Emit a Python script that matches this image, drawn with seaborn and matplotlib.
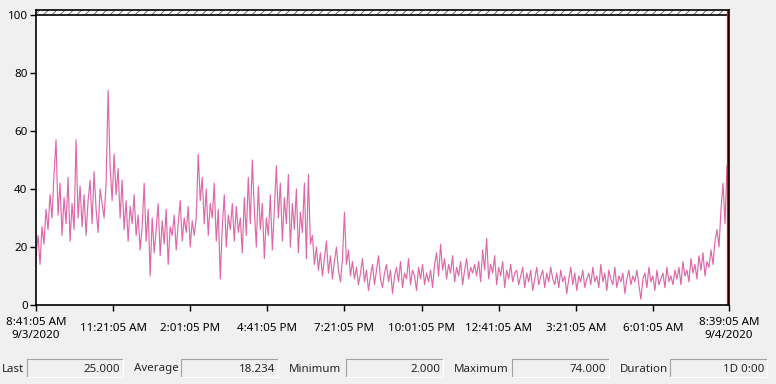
import numpy as np
import pandas as pd
import seaborn as sns
import matplotlib.pyplot as plt
from matplotlib.patches import Rectangle
from matplotlib.lines import Line2D

# samples, left to right (roughly one per 2 px)
values = [
    17, 24, 14, 27, 21, 33, 26, 38, 30, 45, 57, 31, 42, 24, 37, 28, 44, 22, 35, 26,
    57, 30, 41, 27, 38, 24, 36, 43, 28, 46, 33, 25, 40, 35, 30, 42, 74, 48, 36, 52,
    38, 47, 30, 43, 26, 36, 22, 34, 28, 38, 24, 31, 19, 27, 42, 22, 33, 10, 30, 18,
    26, 35, 17, 29, 21, 33, 14, 27, 24, 31, 19, 28, 36, 22, 30, 25, 34, 20, 29, 24,
    30, 52, 36, 44, 28, 40, 24, 35, 30, 42, 22, 33, 9, 27, 38, 20, 31, 26, 35, 22,
    34, 25, 30, 18, 37, 24, 44, 28, 50, 33, 20, 41, 26, 35, 16, 30, 24, 38, 19, 33,
    48, 30, 42, 22, 37, 28, 45, 20, 35, 26, 40, 18, 32, 25, 42, 16, 45, 21, 24, 14,
    20, 12, 18, 10, 16, 22, 11, 17, 9, 15, 20, 12, 8, 16, 32, 14, 19, 10, 15, 9,
    13, 7, 11, 16, 8, 12, 5, 10, 14, 7, 12, 17, 9, 6, 11, 14, 8, 12, 4, 10,
    13, 8, 15, 6, 11, 9, 16, 7, 12, 10, 5, 13, 9, 14, 7, 11, 8, 12, 6, 14,
    18, 10, 21, 12, 16, 9, 14, 11, 17, 8, 13, 10, 15, 7, 12, 16, 9, 13, 11, 14,
    10, 15, 8, 19, 12, 23, 9, 14, 11, 17, 7, 13, 10, 15, 6, 12, 9, 14, 8, 11,
    12, 7, 10, 13, 6, 11, 8, 12, 5, 9, 13, 7, 10, 12, 6, 11, 8, 13, 9, 7,
    11, 6, 12, 8, 10, 4, 9, 13, 7, 11, 5, 10, 8, 12, 6, 9, 11, 7, 13, 8,
    10, 6, 14, 8, 11, 5, 12, 9, 7, 13, 6, 10, 8, 11, 4, 9, 12, 7, 10, 8,
    12, 7, 2, 9, 11, 6, 13, 8, 10, 5, 12, 7, 9, 11, 6, 13, 8, 10, 7, 12,
    9, 13, 7, 15, 10, 12, 8, 16, 11, 14, 9, 17, 12, 18, 10, 15, 13, 19, 14, 22,
    26, 20, 33, 42, 28, 48, 25,
]

duration_min = 1438
tick_minutes = [0, 160, 320, 480, 640, 800, 960, 1120, 1280, 1438]
tick_labels = ["8:41:05 AM\n9/3/2020", "11:21:05 AM", "2:01:05 PM", "4:41:05 PM",
               "7:21:05 PM", "10:01:05 PM", "12:41:05 AM", "3:21:05 AM",
               "6:01:05 AM", "8:39:05 AM\n9/4/2020"]
y_ticks = [0, 20, 40, 60, 80, 100]

stat_names = ["Last", "Average", "Minimum", "Maximum", "Duration"]
stat_values = ["25.000", "18.234", "2.000", "74.000", "1D 0:00"]

sns.set_style("ticks")
plt.rcParams['font.family'] = ['Noto Sans', 'DejaVu Sans']
plt.rcParams['hatch.linewidth'] = 0.6
plt.rcParams['hatch.color'] = '#555555'

W, H = 776, 384
fig = plt.figure(figsize=(W / 100, H / 100), dpi=100, facecolor='#f0f0f0')
ax = fig.add_axes([36 / W, 79 / H, 693 / W, 295 / H])
ax.set_facecolor('white')

df = pd.DataFrame({'minute': np.linspace(0, duration_min, len(values)), 'value': values})
sns.lineplot(data=df, x='minute', y='value', ax=ax, color='#de68a8', lw=0.85,
             estimator=None)

ytop = 100 + 5 / 2.9
ax.axhspan(100, ytop, facecolor='white', edgecolor='#555555', hatch='////', lw=0)
ax.axhline(100, color='black', lw=1.2)
ax.axvline(duration_min - 2.6, color='red', lw=1.6)

ax.set_xlim(0, duration_min)
ax.set_ylim(0, ytop)
ax.set_xticks(tick_minutes)
ax.set_xticklabels(tick_labels, fontsize=8.3, linespacing=1.25)
ax.set_yticks(y_ticks)
ax.set_yticklabels([str(v) for v in y_ticks], fontsize=8.3)
ax.set_xlabel('')
ax.set_ylabel('')
ax.tick_params(axis='both', direction='out', length=4, width=1, colors='black')
ax.tick_params(axis='x', pad=13)
ax.tick_params(axis='y', pad=2)
for lab in ax.get_xticklabels():
    lab.set_va('center')
for s in ax.spines.values():
    s.set_color('black')
    s.set_linewidth(1.2)

# summary row under the chart
label_x = [2, 134, 289, 454, 620]
box_x = [(27, 123), (181, 278), (346, 443), (512, 609), (670, 767)]
by0, by1 = 359, 377
ty = 1 - 369 / H
for name, val, lx, (x0, x1) in zip(stat_names, stat_values, label_x, box_x):
    fig.text(lx / W, ty, name, fontsize=8.3, va='center', ha='left')
    fig.patches.append(Rectangle((x0 / W, 1 - by1 / H), (x1 - x0) / W, (by1 - by0) / H,
                                 transform=fig.transFigure, facecolor='#f0f0f0', edgecolor='none'))
    fig.lines.append(Line2D([x0 / W, x0 / W, x1 / W], [1 - by1 / H, 1 - by0 / H, 1 - by0 / H],
                            transform=fig.transFigure, color='#a0a0a0', lw=0.8))
    fig.lines.append(Line2D([x0 / W, x1 / W, x1 / W], [1 - by1 / H, 1 - by1 / H, 1 - by0 / H],
                            transform=fig.transFigure, color='white', lw=0.8))
    fig.text((x1 - 3) / W, ty, val, fontsize=8.3, va='center', ha='right')

fig.savefig('out.png', dpi=100, facecolor=fig.get_facecolor())
